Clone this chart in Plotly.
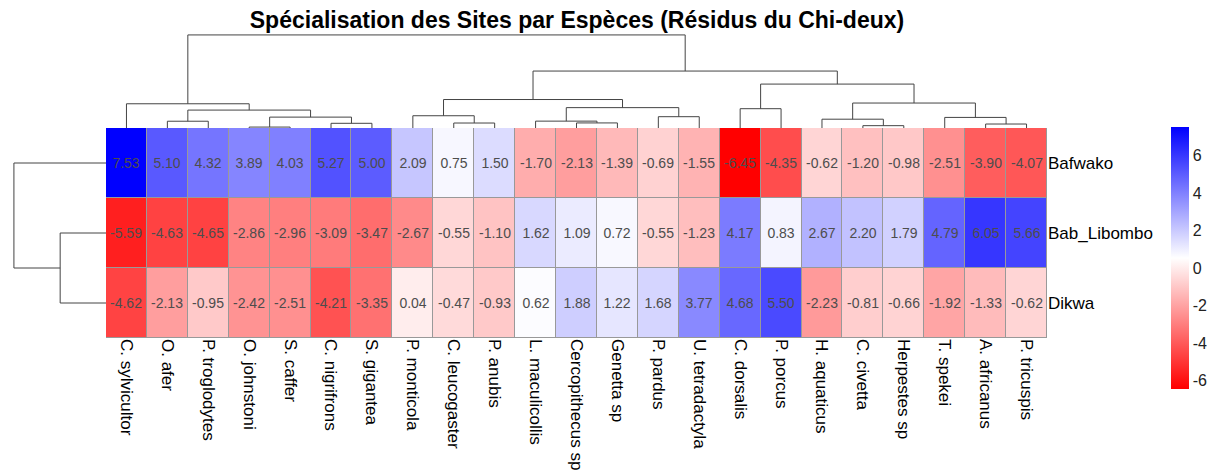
import numpy as np
import plotly.graph_objects as go

species = ["C. sylvicultor", "O. afer", "P. troglodytes", "O. johnstoni", "S. caffer",
           "C. nigrifrons", "S. gigantea", "P. monticola", "C. leucogaster", "P. anubis",
           "L. maculicollis", "Cercopithecus sp", "Genetta sp", "P. pardus", "U. tetradactyla",
           "C. dorsalis", "P. porcus", "H. aquaticus", "C. civetta", "Herpestes sp",
           "T. spekei", "A. africanus", "P. tricuspis"]
sites = ["Bafwako", "Bab_Libombo", "Dikwa"]
bafwako = [7.53, 5.10, 4.32, 3.89, 4.03, 5.27, 5.00, 2.09, 0.75, 1.50, -1.70, -2.13, -1.39,
           -0.69, -1.55, -6.45, -4.35, -0.62, -1.20, -0.98, -2.51, -3.90, -4.07]
bab_libombo = [-5.59, -4.63, -4.65, -2.86, -2.96, -3.09, -3.47, -2.67, -0.55, -1.10, 1.62, 1.09,
               0.72, -0.55, -1.23, 4.17, 0.83, 2.67, 2.20, 1.79, 4.79, 6.05, 5.66]
dikwa = [-4.62, -2.13, -0.95, -2.42, -2.51, -4.21, -3.35, 0.04, -0.47, -0.93, 0.62, 1.88, 1.22,
         1.68, 3.77, 4.68, 5.50, -2.23, -0.81, -0.66, -1.92, -1.33, -0.62]
colorbar_ticks = [-6, -4, -2, 0, 2, 4, 6]
title_text = "Spécialisation des Sites par Espèces (Résidus du Chi-deux)"

Z = np.array([bafwako, bab_libombo, dikwa])


def complete_linkage(X):
    n = len(X)
    D = np.sqrt(((X[:, None, :] - X[None, :, :]) ** 2).sum(-1))
    clusters = {i: [i] for i in range(n)}
    merges = []
    nid = n
    while len(clusters) > 1:
        keys = list(clusters)
        best = None
        for a in range(len(keys)):
            for b in range(a + 1, len(keys)):
                ka, kb = keys[a], keys[b]
                d = D[np.ix_(clusters[ka], clusters[kb])].max()
                if best is None or d < best[0]:
                    best = (d, ka, kb)
        d, ka, kb = best
        merges.append((ka, kb, d))
        clusters[nid] = clusters.pop(ka) + clusters.pop(kb)
        nid += 1
    return merges


def dendro_segments(merges, n):
    pos = {i: float(i) for i in range(n)}
    hgt = {i: 0.0 for i in range(n)}
    xs, ys = [], []
    for k, (a, b, d) in enumerate(merges):
        xa, xb = pos[a], pos[b]
        xs += [xa, xa, xb, xb, None]
        ys += [hgt[a], d, d, hgt[b], None]
        pos[n + k] = (xa + xb) / 2
        hgt[n + k] = d
    return xs, ys, max(m[2] for m in merges)


col_merges = complete_linkage(Z.T)
row_merges = complete_linkage(Z)
cx, cy, ch = dendro_segments(col_merges, len(species))
rx, ry, rh = dendro_segments(row_merges, len(sites))

# page body has an 8px margin; figure is sized to fit the window
OFF = 8
W, H = 1215 - OFF, 475 - OFF


def fx(px):
    return (px - OFF) / W


def fy(py):
    return 1 - (py - OFF) / H


hx0, hx1 = fx(106), fx(1047)
hy0, hy1 = fy(338), fy(128)
FONT = "Liberation Sans, Arial, sans-serif"

fig = go.Figure()
fig.add_trace(go.Heatmap(
    z=Z, x=list(range(len(species))), y=list(range(len(sites))),
    zmin=float(Z.min()), zmax=float(Z.max()),
    colorscale=[[0, "#FF0000"], [0.5, "#FFFFFF"], [1, "#0000FF"]],
    xgap=1, ygap=1,
    texttemplate="%{z:.2f}", textfont=dict(color="#4D4D4D", size=14, family=FONT),
    colorbar=dict(x=fx(1171), xanchor="left", y=fy(127), yanchor="top",
                  len=262 / H, lenmode="fraction", thickness=18, thicknessmode="pixels",
                  xpad=0, ypad=0,
                  outlinewidth=0, tickvals=colorbar_ticks,
                  ticktext=[str(v) for v in colorbar_ticks], ticks="",
                  tickfont=dict(size=16, family=FONT, color="#222")),
    xaxis="x", yaxis="y", showscale=True,
))
fig.add_trace(go.Scatter(x=cx, y=cy, mode="lines", line=dict(color="#444", width=1),
                         xaxis="x2", yaxis="y2", showlegend=False, hoverinfo="skip"))
fig.add_trace(go.Scatter(x=ry, y=rx, mode="lines", line=dict(color="#444", width=1),
                         xaxis="x3", yaxis="y3", showlegend=False, hoverinfo="skip"))

fig.add_shape(type="rect", xref="x", yref="y", x0=-0.5, x1=len(species) - 0.5,
              y0=-0.5, y1=len(sites) - 0.5, fillcolor="#999999",
              line=dict(color="#999999", width=1), layer="below")

fig.update_layout(
    width=W, height=H, margin=dict(l=0, r=0, t=0, b=0, autoexpand=False),
    paper_bgcolor="white", plot_bgcolor="white",
    title=dict(text="<b>" + title_text + "</b>", x=fx(577), xanchor="center",
               y=fy(20), yanchor="middle",
               font=dict(size=23, family=FONT, color="black")),
    xaxis=dict(domain=[hx0, hx1], range=[-0.5, len(species) - 0.5],
               tickvals=list(range(len(species))), ticktext=species, tickangle=90,
               ticks="", showgrid=False, zeroline=False, showline=False, automargin=False,
               tickfont=dict(size=17, family=FONT, color="black"), anchor="y"),
    yaxis=dict(domain=[hy0, hy1], range=[len(sites) - 0.5, -0.5],
               tickvals=list(range(len(sites))), ticktext=sites, side="right",
               ticks="", showgrid=False, zeroline=False, showline=False, automargin=False,
               tickfont=dict(size=17, family=FONT, color="black"), anchor="x"),
    xaxis2=dict(domain=[hx0, hx1], range=[-0.5, len(species) - 0.5], visible=False,
                anchor="y2"),
    yaxis2=dict(domain=[hy1, fy(34)], range=[0, ch * 1.01], visible=False,
                anchor="x2"),
    xaxis3=dict(domain=[fx(13), hx0], range=[rh * 1.01, 0], visible=False, anchor="y3"),
    yaxis3=dict(domain=[hy0, hy1], range=[len(sites) - 0.5, -0.5], visible=False,
                anchor="x3"),
)

fig.write_html("out.html")
